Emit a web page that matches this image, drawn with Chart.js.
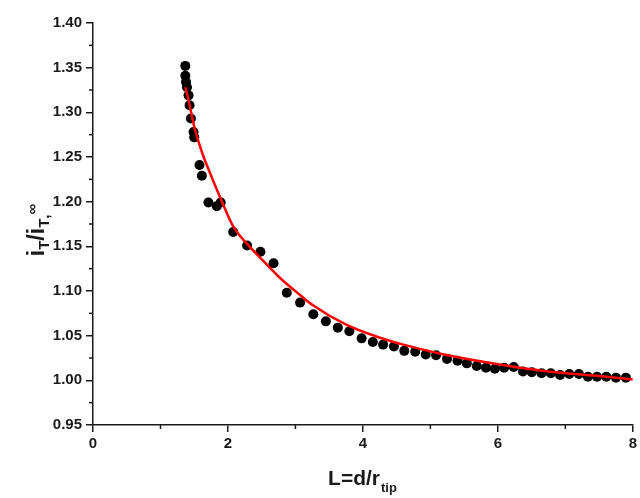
<!DOCTYPE html>
<html>
<head>
<meta charset="utf-8">
<script src="https://cdn.jsdelivr.net/npm/chart.js@4"></script>
<style>
  html, body { margin: 0; padding: 0; background: #fff; }
  #wrap { width: 640px; height: 498px; }
</style>
</head>
<body>
<div id="wrap"><canvas id="chart" width="640" height="498"></canvas></div>
<script>
// measured points (L, iT/iT,inf)
const dotX = [1.368, 1.368, 1.378, 1.393, 1.416, 1.431, 1.451, 1.490, 1.500, 1.578,
    1.613, 1.710, 1.834, 1.893, 2.078, 2.284, 2.481, 2.676, 2.872, 3.069,
    3.265, 3.451, 3.628, 3.799, 3.981, 4.147, 4.299, 4.460, 4.613, 4.775,
    4.931, 5.084, 5.246, 5.401, 5.540, 5.687, 5.824, 5.956, 6.093, 6.235,
    6.372, 6.504, 6.647, 6.784, 6.922, 7.059, 7.201, 7.334, 7.470, 7.607,
    7.750, 7.897];
const dotY = [1.352, 1.341, 1.334, 1.328, 1.319, 1.308, 1.293, 1.278, 1.272, 1.241,
    1.229, 1.199, 1.195, 1.199, 1.166, 1.151, 1.144, 1.131, 1.098, 1.087,
    1.074, 1.066, 1.059, 1.055, 1.047, 1.043, 1.040, 1.038, 1.033, 1.032,
    1.029, 1.028, 1.024, 1.022, 1.019, 1.016, 1.014, 1.013, 1.014, 1.015,
    1.010, 1.009, 1.008, 1.008, 1.006, 1.007, 1.007, 1.004, 1.004, 1.004,
    1.003, 1.003];

// fitted curve
const fitX = [1.37, 1.42, 1.50, 1.56, 1.64, 1.74, 1.90, 2.08, 2.28, 2.52,
    2.78, 3.06, 3.26, 3.76, 4.24, 4.60, 5.26, 6.00, 6.74, 7.47, 8.00];
const fitY = [1.328, 1.312, 1.284, 1.268, 1.250, 1.231, 1.202, 1.172, 1.153, 1.134,
    1.114, 1.096, 1.084, 1.062, 1.048, 1.040, 1.028, 1.018, 1.010, 1.005, 1.001];

const xMajor = [0, 2, 4, 6, 8];
const xMinor = [1, 3, 5, 7];
const yMinor = [0.975, 1.025, 1.075, 1.125, 1.175, 1.225, 1.275, 1.325, 1.375];

const FONT = "'Liberation Sans', Arial, sans-serif";
const ink = '#1a1a1a';

const dots = dotX.map((x, i) => ({ x: x, y: dotY[i] }));
const fit = fitX.map((x, i) => ({ x: x, y: fitY[i] }));

// minor ticks + axis titles with subscripts
const extras = {
    id: 'extras',
    afterDraw(chart) {
        const ctx = chart.ctx;
        const xs = chart.scales.x, ys = chart.scales.y;
        const area = chart.chartArea;
        ctx.save();
        ctx.strokeStyle = ink;
        ctx.lineWidth = 1.5;
        xMinor.forEach(v => {
            const px = xs.getPixelForValue(v);
            ctx.beginPath();
            ctx.moveTo(px, area.bottom);
            ctx.lineTo(px, area.bottom + 4);
            ctx.stroke();
        });
        yMinor.forEach(v => {
            const py = ys.getPixelForValue(v);
            ctx.beginPath();
            ctx.moveTo(area.left - 4, py);
            ctx.lineTo(area.left, py);
            ctx.stroke();
        });

        ctx.fillStyle = ink;
        ctx.textBaseline = 'alphabetic';
        const big = 'bold 21px ' + FONT;
        const small = 'bold 13px ' + FONT;

        // x title: L=d/r_tip
        ctx.font = big;
        const w1 = ctx.measureText('L=d/r').width;
        ctx.font = small;
        const w2 = ctx.measureText('tip').width;
        let sx = 362 - (w1 + w2) / 2;
        ctx.font = big;
        ctx.fillText('L=d/r', sx, 485);
        ctx.font = small;
        ctx.fillText('tip', sx + w1 + 1, 492);

        // y title: i_T/i_T,inf
        const yBig = 'bold 23px ' + FONT;
        const ySmall = 'bold 15px ' + FONT;
        const parts = [
            ['i', yBig, 0], ['T', ySmall, 5], ['/i', yBig, 0], ['T', ySmall, 5],
            [',', ySmall, 5], ['\u221e', ySmall, -7]
        ];
        let total = 0;
        parts.forEach(p => { ctx.font = p[1]; total += ctx.measureText(p[0]).width; });
        ctx.translate(44, 230);
        ctx.rotate(-Math.PI / 2);
        let cx = -total / 2;
        parts.forEach(p => {
            ctx.font = p[1];
            ctx.fillText(p[0], cx, p[2]);
            cx += ctx.measureText(p[0]).width;
        });
        ctx.restore();
    }
};

new Chart(document.getElementById('chart').getContext('2d'), {
    type: 'scatter',
    data: {
        datasets: [
            {
                label: 'fit',
                data: fit,
                showLine: true,
                borderColor: '#ff0000',
                borderWidth: 2.5,
                pointRadius: 0,
                cubicInterpolationMode: 'monotone',
                order: 1
            },
            {
                label: 'data',
                data: dots,
                backgroundColor: '#000000',
                borderColor: '#000000',
                pointRadius: 5,
                pointBorderWidth: 0,
                order: 2
            }
        ]
    },
    options: {
        responsive: false,
        animation: false,
        layout: { padding: { top: 23, right: 4, left: 0, bottom: 0 } },
        plugins: {
            legend: { display: false },
            tooltip: { enabled: false }
        },
        scales: {
            x: {
                type: 'linear',
                min: 0,
                max: 8,
                afterBuildTicks: s => { s.ticks = xMajor.map(v => ({ value: v })); },
                afterFit: s => { s.height = 73; },
                border: { display: true, color: ink, width: 1.5 },
                grid: { drawOnChartArea: false, drawTicks: true, tickLength: 7, color: ink, lineWidth: 1.5 },
                ticks: {
                    color: ink,
                    padding: 3,
                    font: { family: FONT, size: 15, weight: 'bold' },
                    maxRotation: 0
                }
            },
            y: {
                type: 'linear',
                min: 0.95,
                max: 1.40,
                afterFit: s => { s.width = 93; },
                border: { display: true, color: ink, width: 1.5 },
                grid: { drawOnChartArea: false, drawTicks: true, tickLength: 7, color: ink, lineWidth: 1.5 },
                ticks: {
                    stepSize: 0.05,
                    color: ink,
                    padding: 4,
                    font: { family: FONT, size: 15, weight: 'bold' },
                    callback: v => v.toFixed(2)
                }
            }
        }
    },
    plugins: [extras]
});
</script>
</body>
</html>
